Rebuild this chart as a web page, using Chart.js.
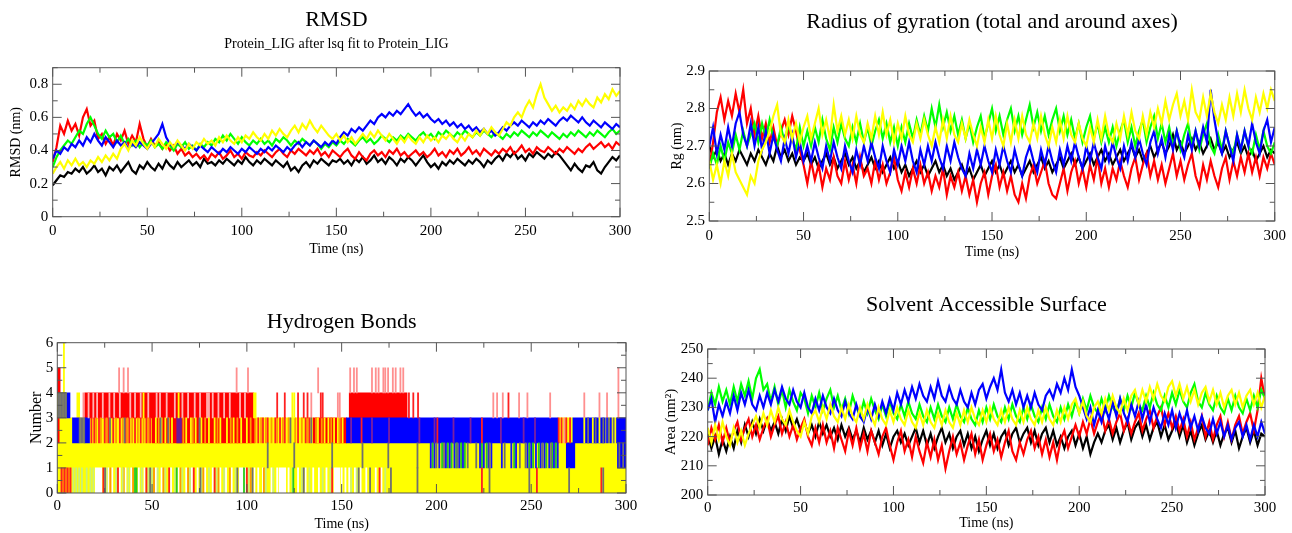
<!DOCTYPE html>
<html>
<head>
<meta charset="utf-8">
<script src="https://cdn.jsdelivr.net/npm/chart.js@4.4.1/dist/chart.umd.min.js"></script>
<style>
  html, body { margin: 0; padding: 0; background: #fff; }
  #wrap { position: relative; width: 1292px; height: 533px; overflow: hidden; }
  .panel { position: absolute; }
</style>
</head>
<body>
<div id="wrap">
  <div class="panel" style="left:0;top:0;width:646px;height:266px"><canvas id="c-rmsd"></canvas></div>
  <div class="panel" style="left:646px;top:0;width:646px;height:266px"><canvas id="c-rg"></canvas></div>
  <div class="panel" style="left:0;top:266px;width:646px;height:267px"><canvas id="c-hb"></canvas></div>
  <div class="panel" style="left:646px;top:266px;width:646px;height:267px"><canvas id="c-sasa"></canvas></div>
</div>
<script>
/* Four GROMACS/xmgrace style panels: RMSD, Rg, H-bonds, SASA.
 * Five systems per panel, drawn black, red, green, blue, yellow (yellow on top). */
(function () {
  'use strict';

  // ---- axes -------------------------------------------------------------
  var T_STEP = 2;                       // ns between samples
  var X_TICKS = [0, 50, 100, 150, 200, 250, 300];
  var RMSD_TICKS = [0, 0.2, 0.4, 0.6, 0.8];
  var RG_TICKS = [2.5, 2.6, 2.7, 2.8, 2.9];
  var HB_TICKS = [0, 1, 2, 3, 4, 5, 6];
  var SASA_TICKS = [200, 210, 220, 230, 240, 250];

  // ---- RMSD (nm), one value every 2 ns, 0..300 ns -----------------------
  var RMSD_BLACK = [
    0.19,0.22,0.25,0.24,0.27,0.26,
    0.29,0.27,0.30,0.26,0.28,0.31,0.27,0.29,0.25,0.30,
    0.28,0.31,0.27,0.30,0.33,0.28,0.26,0.31,0.29,0.33,
    0.30,0.28,0.32,0.29,0.34,0.31,0.29,0.33,0.30,0.32,
    0.34,0.31,0.33,0.30,0.35,0.32,0.33,0.31,0.34,0.32,
    0.35,0.33,0.31,0.34,0.32,0.36,0.33,0.31,0.34,0.32,
    0.35,0.33,0.31,0.34,0.32,0.30,0.33,0.28,0.30,0.27,
    0.31,0.33,0.30,0.34,0.32,0.35,0.33,0.31,0.34,0.33,
    0.35,0.32,0.34,0.31,0.35,0.33,0.36,0.32,0.34,0.37,
    0.33,0.35,0.32,0.36,0.34,0.31,0.35,0.33,0.36,0.34,
    0.31,0.34,0.37,0.33,0.30,0.32,0.29,0.33,0.31,0.34,
    0.32,0.35,0.33,0.31,0.34,0.32,0.35,0.33,0.30,0.34,
    0.32,0.35,0.37,0.34,0.38,0.36,0.39,0.35,0.37,0.34,
    0.38,0.36,0.39,0.37,0.35,0.38,0.36,0.39,0.37,0.34,
    0.31,0.28,0.32,0.29,0.27,0.31,0.30,0.33,0.28,0.26,
    0.30,0.33,0.36,0.34,0.37
  ];
  var RMSD_RED = [
    0.33,0.42,0.55,0.50,0.58,0.52,
    0.56,0.49,0.60,0.65,0.55,0.58,0.47,0.50,0.44,0.48,
    0.43,0.50,0.46,0.52,0.44,0.49,0.45,0.56,0.47,0.42,
    0.47,0.43,0.45,0.41,0.44,0.40,0.43,0.38,0.41,0.37,
    0.39,0.36,0.38,0.35,0.37,0.34,0.38,0.36,0.39,0.35,
    0.37,0.40,0.36,0.38,0.35,0.39,0.37,0.36,0.39,0.37,
    0.40,0.38,0.36,0.39,0.41,0.38,0.36,0.40,0.38,0.41,
    0.39,0.37,0.40,0.38,0.41,0.37,0.39,0.36,0.40,0.38,
    0.36,0.39,0.41,0.37,0.35,0.39,0.36,0.34,0.38,0.40,
    0.37,0.39,0.36,0.40,0.38,0.41,0.37,0.39,0.36,0.38,
    0.40,0.37,0.39,0.36,0.38,0.41,0.37,0.39,0.36,0.40,
    0.38,0.41,0.37,0.39,0.42,0.38,0.40,0.37,0.41,0.39,
    0.37,0.40,0.38,0.41,0.39,0.42,0.38,0.40,0.43,0.39,
    0.41,0.38,0.42,0.40,0.39,0.42,0.40,0.38,0.41,0.39,
    0.42,0.40,0.38,0.41,0.39,0.42,0.44,0.41,0.43,0.45,
    0.42,0.44,0.41,0.45,0.43
  ];
  var RMSD_GREEN = [
    0.30,0.36,0.40,0.43,0.46,0.44,
    0.48,0.52,0.50,0.56,0.60,0.55,0.50,0.47,0.52,0.48,
    0.50,0.45,0.49,0.44,0.47,0.43,0.46,0.42,0.45,0.43,
    0.46,0.42,0.44,0.41,0.45,0.43,0.40,0.44,0.42,0.45,
    0.41,0.43,0.40,0.44,0.42,0.45,0.43,0.47,0.45,0.49,
    0.46,0.50,0.47,0.44,0.48,0.45,0.43,0.46,0.44,0.47,
    0.44,0.46,0.43,0.47,0.45,0.48,0.46,0.43,0.46,0.44,
    0.47,0.45,0.43,0.46,0.44,0.41,0.44,0.42,0.45,0.43,
    0.46,0.44,0.47,0.45,0.43,0.46,0.48,0.45,0.47,0.44,
    0.46,0.49,0.47,0.45,0.48,0.46,0.49,0.47,0.50,0.48,
    0.46,0.49,0.51,0.48,0.50,0.47,0.51,0.49,0.52,0.50,
    0.48,0.51,0.49,0.52,0.50,0.48,0.51,0.49,0.52,0.50,
    0.48,0.51,0.49,0.47,0.50,0.48,0.51,0.49,0.52,0.50,
    0.48,0.51,0.49,0.52,0.50,0.48,0.51,0.49,0.47,0.50,
    0.48,0.51,0.49,0.52,0.50,0.48,0.51,0.49,0.52,0.50,
    0.48,0.51,0.53,0.50,0.52
  ];
  var RMSD_BLUE = [
    0.35,0.40,0.38,0.42,0.40,0.44,
    0.42,0.46,0.43,0.48,0.45,0.50,0.46,0.43,0.48,0.45,
    0.42,0.46,0.43,0.45,0.41,0.44,0.42,0.45,0.43,0.41,
    0.44,0.47,0.50,0.56,0.48,0.44,0.42,0.45,0.43,0.41,
    0.44,0.42,0.40,0.43,0.41,0.39,0.42,0.40,0.38,0.41,
    0.39,0.42,0.40,0.38,0.41,0.39,0.42,0.40,0.38,0.41,
    0.39,0.42,0.40,0.43,0.41,0.39,0.42,0.40,0.43,0.45,
    0.42,0.45,0.43,0.46,0.44,0.42,0.45,0.43,0.46,0.44,
    0.48,0.51,0.49,0.53,0.51,0.54,0.52,0.55,0.58,0.56,
    0.60,0.62,0.60,0.63,0.61,0.64,0.62,0.65,0.68,0.64,
    0.61,0.63,0.60,0.62,0.59,0.57,0.59,0.56,0.58,0.55,
    0.57,0.54,0.56,0.53,0.55,0.52,0.54,0.51,0.53,0.50,
    0.52,0.49,0.51,0.54,0.52,0.55,0.57,0.55,0.58,0.56,
    0.54,0.57,0.55,0.58,0.56,0.59,0.57,0.55,0.58,0.60,
    0.58,0.61,0.59,0.57,0.60,0.57,0.55,0.58,0.56,0.54,
    0.57,0.55,0.53,0.56,0.54
  ];
  var RMSD_YELLOW = [
    0.26,0.30,0.33,0.29,0.34,0.31,
    0.35,0.31,0.33,0.30,0.34,0.32,0.36,0.33,0.37,0.34,
    0.38,0.35,0.41,0.44,0.40,0.46,0.43,0.48,0.44,0.41,
    0.45,0.42,0.47,0.44,0.41,0.45,0.42,0.46,0.43,0.40,
    0.44,0.41,0.45,0.43,0.47,0.44,0.46,0.43,0.48,0.45,
    0.49,0.46,0.44,0.48,0.45,0.49,0.47,0.51,0.48,0.46,
    0.50,0.47,0.52,0.49,0.53,0.50,0.48,0.52,0.55,0.51,
    0.56,0.53,0.58,0.54,0.51,0.55,0.52,0.49,0.47,0.50,
    0.46,0.49,0.45,0.48,0.44,0.47,0.50,0.47,0.51,0.48,
    0.52,0.49,0.46,0.50,0.47,0.44,0.48,0.45,0.49,0.46,
    0.44,0.48,0.45,0.49,0.46,0.48,0.45,0.49,0.47,0.50,
    0.47,0.45,0.49,0.46,0.50,0.48,0.52,0.49,0.53,0.50,
    0.54,0.51,0.49,0.53,0.57,0.55,0.60,0.63,0.60,0.66,
    0.70,0.66,0.74,0.80,0.72,0.68,0.64,0.67,0.63,0.66,
    0.64,0.68,0.65,0.70,0.67,0.71,0.68,0.66,0.72,0.69,
    0.74,0.71,0.77,0.73,0.76
  ];

  // ---- Radius of gyration (nm) ------------------------------------------
  var RG_BLACK = [
    2.70,2.67,2.69,2.66,2.68,2.65,
    2.68,2.66,2.69,2.67,2.65,2.68,2.66,2.69,2.67,2.65,
    2.68,2.66,2.70,2.67,2.69,2.66,2.68,2.65,2.67,2.66,
    2.68,2.65,2.67,2.64,2.66,2.68,2.65,2.67,2.64,2.66,
    2.68,2.65,2.67,2.64,2.66,2.63,2.65,2.67,2.64,2.66,
    2.63,2.65,2.67,2.64,2.66,2.63,2.65,2.62,2.64,2.66,
    2.63,2.65,2.62,2.64,2.66,2.63,2.65,2.62,2.64,2.61,
    2.63,2.65,2.62,2.64,2.61,2.63,2.65,2.62,2.64,2.66,
    2.63,2.65,2.62,2.64,2.66,2.63,2.65,2.62,2.64,2.66,
    2.63,2.65,2.67,2.64,2.66,2.63,2.65,2.67,2.64,2.66,
    2.68,2.65,2.67,2.64,2.66,2.68,2.65,2.67,2.69,2.66,
    2.68,2.65,2.67,2.69,2.66,2.68,2.70,2.67,2.69,2.66,
    2.68,2.70,2.67,2.69,2.71,2.68,2.70,2.73,2.69,2.71,
    2.68,2.70,2.72,2.69,2.71,2.68,2.70,2.72,2.69,2.71,
    2.68,2.70,2.67,2.69,2.71,2.68,2.70,2.67,2.69,2.66,
    2.68,2.70,2.67,2.69,2.68
  ];
  var RG_RED = [
    2.64,2.71,2.79,2.83,2.77,2.82,
    2.78,2.84,2.79,2.85,2.76,2.80,2.73,2.78,2.72,2.76,
    2.71,2.75,2.70,2.74,2.77,2.73,2.78,2.74,2.69,2.65,
    2.60,2.66,2.61,2.65,2.59,2.64,2.61,2.67,2.62,2.60,
    2.66,2.61,2.65,2.60,2.67,2.62,2.64,2.60,2.66,2.61,
    2.65,2.60,2.63,2.67,2.61,2.58,2.63,2.59,2.64,2.60,
    2.65,2.60,2.63,2.58,2.62,2.59,2.64,2.57,2.62,2.59,
    2.63,2.58,2.62,2.57,2.61,2.55,2.60,2.63,2.57,2.62,
    2.65,2.59,2.63,2.58,2.62,2.57,2.55,2.60,2.56,2.62,
    2.65,2.60,2.63,2.66,2.60,2.57,2.56,2.60,2.64,2.58,
    2.63,2.66,2.60,2.64,2.59,2.65,2.61,2.67,2.60,2.64,
    2.59,2.64,2.61,2.66,2.62,2.59,2.64,2.67,2.61,2.65,
    2.68,2.62,2.66,2.61,2.65,2.60,2.64,2.68,2.62,2.66,
    2.61,2.65,2.68,2.62,2.59,2.65,2.61,2.66,2.62,2.59,
    2.64,2.67,2.61,2.66,2.62,2.67,2.63,2.68,2.63,2.67,
    2.62,2.67,2.64,2.68,2.65
  ];
  var RG_GREEN = [
    2.64,2.68,2.65,2.70,2.66,2.71,
    2.68,2.73,2.69,2.74,2.70,2.73,2.76,2.71,2.76,2.72,
    2.77,2.72,2.70,2.75,2.71,2.76,2.72,2.69,2.75,2.70,
    2.74,2.70,2.75,2.71,2.77,2.72,2.69,2.75,2.71,2.76,
    2.72,2.70,2.75,2.71,2.76,2.71,2.75,2.70,2.74,2.77,
    2.72,2.76,2.71,2.75,2.70,2.75,2.71,2.76,2.72,2.77,
    2.73,2.78,2.74,2.80,2.75,2.81,2.75,2.79,2.74,2.78,
    2.73,2.77,2.72,2.76,2.71,2.75,2.78,2.72,2.76,2.80,
    2.74,2.78,2.73,2.77,2.80,2.74,2.78,2.73,2.77,2.81,
    2.75,2.79,2.74,2.78,2.73,2.77,2.80,2.74,2.78,2.73,
    2.77,2.72,2.76,2.71,2.75,2.78,2.72,2.76,2.71,2.75,
    2.71,2.75,2.70,2.74,2.77,2.71,2.75,2.70,2.74,2.77,
    2.71,2.75,2.78,2.72,2.76,2.71,2.75,2.70,2.74,2.69,
    2.73,2.76,2.70,2.74,2.69,2.73,2.76,2.70,2.68,2.73,
    2.69,2.74,2.70,2.68,2.73,2.69,2.74,2.70,2.68,2.73,
    2.69,2.74,2.70,2.68,2.71
  ];
  var RG_BLUE = [
    2.70,2.75,2.68,2.73,2.69,2.75,
    2.70,2.76,2.79,2.73,2.70,2.76,2.70,2.75,2.69,2.74,
    2.68,2.73,2.69,2.66,2.72,2.68,2.73,2.67,2.71,2.66,
    2.70,2.66,2.71,2.67,2.64,2.70,2.66,2.71,2.67,2.64,
    2.70,2.66,2.63,2.69,2.65,2.70,2.66,2.71,2.67,2.64,
    2.70,2.66,2.63,2.69,2.65,2.70,2.66,2.71,2.66,2.63,
    2.69,2.65,2.70,2.66,2.71,2.67,2.64,2.70,2.66,2.71,
    2.67,2.64,2.62,2.68,2.64,2.69,2.65,2.70,2.66,2.63,
    2.69,2.65,2.70,2.66,2.63,2.69,2.65,2.62,2.67,2.70,
    2.66,2.63,2.69,2.65,2.70,2.66,2.63,2.69,2.65,2.70,
    2.66,2.71,2.67,2.64,2.70,2.66,2.71,2.67,2.64,2.70,
    2.66,2.71,2.67,2.64,2.70,2.66,2.71,2.67,2.72,2.68,
    2.65,2.71,2.74,2.68,2.72,2.67,2.73,2.69,2.74,2.70,
    2.67,2.73,2.69,2.74,2.70,2.75,2.71,2.85,2.77,2.71,
    2.68,2.74,2.70,2.66,2.73,2.69,2.74,2.70,2.76,2.71,
    2.68,2.74,2.77,2.71,2.75
  ];
  var RG_YELLOW = [
    2.66,2.61,2.65,2.60,2.66,2.62,
    2.68,2.63,2.61,2.59,2.57,2.62,2.60,2.66,2.69,2.71,
    2.74,2.78,2.81,2.73,2.71,2.77,2.72,2.76,2.71,2.75,
    2.78,2.72,2.76,2.80,2.73,2.77,2.72,2.81,2.74,2.78,
    2.73,2.77,2.72,2.78,2.73,2.71,2.76,2.72,2.78,2.73,
    2.79,2.73,2.77,2.71,2.76,2.72,2.78,2.73,2.71,2.76,
    2.72,2.77,2.73,2.70,2.75,2.71,2.77,2.72,2.78,2.73,
    2.71,2.76,2.72,2.77,2.73,2.70,2.75,2.71,2.77,2.72,
    2.78,2.73,2.70,2.76,2.71,2.77,2.72,2.78,2.73,2.71,
    2.76,2.72,2.78,2.73,2.70,2.75,2.71,2.77,2.72,2.78,
    2.73,2.71,2.76,2.72,2.70,2.75,2.71,2.77,2.72,2.78,
    2.73,2.71,2.76,2.72,2.78,2.73,2.79,2.74,2.72,2.78,
    2.73,2.79,2.75,2.80,2.76,2.82,2.77,2.81,2.84,2.78,
    2.82,2.77,2.85,2.79,2.77,2.83,2.78,2.84,2.79,2.76,
    2.81,2.77,2.83,2.78,2.84,2.79,2.85,2.80,2.77,2.83,
    2.79,2.84,2.80,2.85,2.82
  ];

  // ---- Solvent accessible surface (nm^2) --------------------------------
  var SASA_BLACK = [
    221,216,220,214,219,215,
    220,216,222,218,224,220,225,221,226,222,
    226,222,225,221,226,222,227,223,226,222,
    225,221,224,220,225,221,224,220,223,219,
    224,220,223,219,222,218,223,219,222,218,
    222,217,221,216,220,222,218,221,217,220,
    223,218,222,217,221,216,220,223,218,221,
    216,220,222,217,221,216,220,215,219,222,
    217,221,216,220,222,217,221,223,218,221,
    223,218,222,217,221,223,218,222,217,220,
    216,220,222,217,221,216,220,214,218,221,
    218,222,224,219,223,218,222,225,219,223,
    225,220,224,219,223,225,220,224,219,222,
    225,220,224,218,222,217,221,224,219,222,
    218,222,217,221,223,218,222,216,220,223,
    218,222,217,221,220
  ];
  var SASA_RED = [
    217,223,219,224,218,223,
    218,222,225,219,223,226,220,224,219,223,
    226,220,224,227,221,225,220,224,219,223,
    226,220,217,223,218,224,218,222,216,223,
    219,215,222,217,223,216,221,215,222,218,
    214,220,223,217,212,218,222,215,219,213,
    220,215,211,218,213,219,212,217,209,215,
    220,214,218,212,217,221,214,219,212,217,
    221,215,219,213,218,222,215,212,218,214,
    219,222,216,220,214,219,213,218,212,219,
    222,216,220,224,220,225,221,226,221,225,
    228,222,226,221,225,228,222,226,221,225,
    228,222,226,229,223,227,230,224,228,223,
    227,222,226,220,225,219,223,227,220,225,
    219,224,227,220,225,219,224,227,221,225,
    228,222,229,240,233
  ];
  var SASA_GREEN = [
    229,235,231,237,232,236,
    231,237,232,238,234,239,233,240,243,236,
    238,232,237,231,236,230,236,232,229,235,
    233,228,234,230,235,229,233,236,230,234,
    229,233,228,234,230,227,232,228,233,229,
    226,231,227,232,228,226,231,227,232,228,
    226,231,227,225,230,226,231,227,225,230,
    226,231,227,225,230,226,224,229,225,230,
    226,231,227,225,230,226,231,227,225,230,
    226,231,227,225,230,226,231,227,225,230,
    226,231,227,232,228,233,229,234,230,228,
    233,229,234,230,228,233,229,234,230,235,
    231,229,234,230,235,231,229,234,230,235,
    231,236,232,230,235,238,232,230,235,231,
    229,234,230,228,233,229,234,230,228,233,
    229,234,230,236,233
  ];
  var SASA_BLUE = [
    229,233,225,231,227,232,
    228,234,229,235,231,236,231,229,234,230,
    235,231,236,232,237,233,231,236,232,230,
    235,230,228,233,229,234,230,228,233,229,
    227,232,228,226,231,227,225,230,226,231,
    227,232,228,233,229,235,231,236,232,237,
    233,238,234,232,237,233,239,234,232,237,
    233,231,236,232,230,235,231,236,238,233,
    237,240,236,243,235,232,236,231,235,230,
    234,230,235,231,229,234,236,233,238,235,
    240,236,243,237,234,230,226,230,224,229,
    225,230,226,232,227,233,228,225,231,227,
    232,226,231,225,230,226,223,228,224,229,
    223,228,224,229,223,227,222,227,223,221,
    226,221,225,220,224,219,223,225,220,224,
    219,224,220,225,221
  ];
  var SASA_YELLOW = [
    223,218,224,219,225,220,
    217,223,218,222,217,221,224,227,223,228,
    224,229,225,230,226,224,229,225,222,220,
    225,221,227,229,225,230,226,231,227,225,
    230,226,231,227,225,230,226,231,227,224,
    230,226,224,229,225,230,226,224,229,225,
    223,228,224,229,225,223,228,224,229,225,
    223,228,224,229,225,230,226,224,229,225,
    230,226,224,229,225,230,226,224,229,225,
    230,226,224,229,225,230,226,224,229,225,
    230,226,231,233,228,232,227,225,230,232,
    228,233,229,234,230,228,233,229,234,236,
    231,236,232,237,233,238,234,232,237,239,
    234,238,233,237,232,236,231,235,237,232,
    236,231,235,230,234,236,231,235,230,234,
    236,231,235,230,234
  ];

  // ---- Hydrogen bonds ----------------------------------------------------
  // filled blocks: [number of bonds (band floor), from ns, to ns]
  var HB_YELLOW_SPANS = [
    [0, 0, 300], [1, 0, 300],
    [2, 1, 8], [2, 11.5, 14.5], [2, 17, 50], [2, 104, 135], [2, 264, 272], [2, 289, 295],
    [3, 0, 5], [3, 10.3, 11.8]
  ];
  var HB_RED_SPANS = [
    [4, 0, 1.5], [3, 14.5, 103.5], [3, 154, 184.5],
    [2, 0, 1], [2, 50, 104], [2, 135, 152.5]
  ];
  var HB_BLUE_SPANS = [
    [3, 5, 6.7], [2, 8, 11.5], [2, 14.5, 17], [2, 152.5, 264], [2, 272, 289], [2, 295, 300],
    [1, 268.5, 273], [1, 295.5, 300]
  ];
  var HB_WHITE_SPANS = [[0, 20, 23.5], [0, 96, 98], [0, 117, 120.5], [0, 146, 149]];
  var HB_PURPLE_SPANS = [[2, 63, 65.5]];

  // single-frame spikes: [band floor, [times in ns]]
  var HB_GAP_LINES = [
    [3, [16.5, 19, 21, 24, 27.5, 30, 33, 38.5, 41, 44, 48, 52.4, 54.2, 57.7, 62, 66, 69,
         72.5, 75.3, 79, 80, 82, 85, 88, 91, 96.4, 99]]
  ];
  var HB_WHITE_LINES = [
    [0, [27, 29, 33, 36, 39, 43, 46, 52, 55, 60, 64, 68, 71, 74, 78, 82, 86, 89, 92, 99, 104,
         106, 108.5, 113, 116, 122, 127, 131, 135, 138, 142, 150, 152, 154, 157, 160, 163, 168, 171]]
  ];
  var HB_ORANGE_LINES = [
    [0, [3, 4.6, 6.2, 28, 35, 40, 51, 56, 65, 69, 77, 85, 91, 102, 109]],
    [2, [20.5, 23, 26, 31, 34.5, 37, 39.5, 42.5, 45.5, 48, 53.5, 59, 66.5, 71.5, 78, 84.5, 91.5,
         95, 102, 104.5, 107.5, 110, 113, 116, 119, 122, 125.5, 129, 132, 136.5, 139.5, 144.5, 149]]
  ];
  var HB_PALEGREEN_LINES = [
    [0, [8.5, 10, 11.5, 13, 15.5, 17.5, 19, 26, 31, 34.5, 37.5, 44.5, 48, 50, 53, 57, 62, 66, 70,
         76, 80, 84, 88, 94, 101, 110, 114, 124, 129, 133, 140, 144, 155, 158, 173]]
  ];
  var HB_GREEN_LINES = [
    [0, [41, 41.8, 63, 98.5, 124.5]],
    [1, [198, 203, 206, 208, 210.5, 213, 215, 224, 226.5, 241, 249, 251, 254, 258, 261, 263]]
  ];
  var HB_PINK_LINES = [
    [4, [32.6, 35, 37.3, 94.6, 100.6, 137.6, 154.5, 156.5, 158, 166, 168, 169.5, 172, 173, 174.5,
         177, 178.5, 181, 182.5, 296]],
    [3, [13.8, 134, 148, 149, 230, 232, 235, 243.6, 248, 260, 278, 286, 290, 296]],
    [2, [267.5]]
  ];
  var HB_RED_LINES = [
    [0, [2.2, 3.8, 5.4, 7, 24.3, 32, 47, 59, 72, 83, 100, 145, 170, 224, 253, 287]],
    [2, [18, 19.5, 22, 25, 27, 29.5, 33, 36, 38, 41, 44, 47, 49, 106, 108.5, 111, 115, 117.5, 120,
         127, 131, 133, 160.5, 200.5, 224, 264.5, 266, 268.5, 270.5]],
    [3, [116, 120, 127, 130, 132, 139, 140, 185.5, 187.8, 190.3, 238]]
  ];
  var HB_YELLOW_LINES = [
    [2, [52, 55, 57, 60.5, 68, 70.5, 73, 76, 80, 83, 86, 89.5, 93, 97, 100, 137.5, 141, 143, 146,
         148, 150.5, 278, 282.5, 286]],
    [3, [45.5, 64, 103.8, 104.6, 124, 125]],
    [4, [3.5]], [5, [3.5]]
  ];
  var HB_BLUE_LINES = [
    [1, [197, 199, 201.5, 205, 207, 209.5, 212, 214, 223, 225, 227.5, 229, 234.5, 239.5, 242, 248,
         250, 252.5, 255, 257, 259.5, 262, 264]],
    [2, [290, 292]]
  ];
  var HB_GRAY_LINES = [
    [0, [25.2, 49, 75.5, 95, 103, 130, 159, 165, 176, 190, 228, 249, 270, 288]],
    [1, [111, 125, 145, 161, 174.6, 190, 200, 204, 211, 216.5, 221, 228, 236, 244, 247, 256, 260.5,
         296.5, 298.5]],
    [2, [11.8, 12.6, 13.4, 14.2, 27.8, 35.5, 54.5, 58.5, 75, 123, 134, 280, 284, 288, 291, 293.5]],
    [3, [0.6, 1.4, 2.2, 3, 3.8, 4.6]]
  ];
  var HB_PURPLE_LINES = [
    [2, [155, 166, 175, 191, 199, 209, 218, 234, 246, 252]]
  ];

  // ---- styling -----------------------------------------------------------
  var SERIF = '"Liberation Serif", "Times New Roman", serif';
  var FRAME = '#555';
  var STRIPE_HALF = 0.3;     // half width of a one-frame stripe, ns
  var TRACE_WIDTH = 2.2;     // dense MD traces read as thick bands

  Chart.defaults.font.family = SERIF;
  Chart.defaults.color = '#000';
  Chart.defaults.animation = false;

  function xy(values) {
    return values.map(function (v, i) { return { x: i * T_STEP, y: v }; });
  }

  function lineSet(values, color, order) {
    return { data: xy(values), borderColor: color, backgroundColor: color,
      borderWidth: TRACE_WIDTH, borderJoinStyle: 'miter', pointRadius: 0, tension: 0, order: order };
  }

  function spanSet(rows, color, order) {
    return {
      data: rows.map(function (r) { return { y: r[0] + 0.5, x: [r[1], r[2]] }; }),
      backgroundColor: color, order: order
    };
  }

  function stripeSet(groups, color, order) {
    var data = [];
    groups.forEach(function (g) {
      g[1].forEach(function (t) {
        data.push({ y: g[0] + 0.5, x: [t - STRIPE_HALF, t + STRIPE_HALF] });
      });
    });
    return { data: data, backgroundColor: color, order: order };
  }

  function tickList(values) {
    return function (scale) {
      scale.ticks = values.map(function (v) { return { value: v }; });
    };
  }

  // xmgrace-like frame with inward major/minor ticks on all four sides
  var xmFrame = {
    id: 'xmFrame',
    afterDatasetsDraw: function (chart, args, opts) {
      var a = chart.chartArea, ctx = chart.ctx;
      var xs = chart.scales.x, ys = chart.scales.y;
      function marks(scale) {
        var out = [];
        var vals = scale.ticks.map(function (t) { return t.value; });
        vals.forEach(function (v, i) {
          out.push({ v: v, major: true });
          if (i < vals.length - 1) out.push({ v: (v + vals[i + 1]) / 2, major: false });
        });
        if (scale.max > vals[vals.length - 1]) out.push({ v: scale.max, major: false });
        return out;
      }
      ctx.save();
      ctx.strokeStyle = FRAME;
      ctx.lineWidth = 1;
      ctx.strokeRect(a.left, a.top, a.right - a.left, a.bottom - a.top);
      ctx.beginPath();
      marks(xs).forEach(function (m) {
        var p = xs.getPixelForValue(m.v), len = m.major ? opts.major : opts.minor;
        ctx.moveTo(p, a.bottom); ctx.lineTo(p, a.bottom - len);
        ctx.moveTo(p, a.top); ctx.lineTo(p, a.top + len);
      });
      marks(ys).forEach(function (m) {
        var p = ys.getPixelForValue(m.v), len = m.major ? opts.major : opts.minor;
        ctx.moveTo(a.left, p); ctx.lineTo(a.left + len, p);
        ctx.moveTo(a.right, p); ctx.lineTo(a.right - len, p);
      });
      ctx.stroke();
      ctx.restore();
    }
  };

  function xAxis(c) {
    return {
      type: 'linear', min: 0, max: 300,
      grid: { display: false, drawTicks: false }, border: { display: false },
      afterBuildTicks: tickList(X_TICKS),
      ticks: { font: { size: 15 }, padding: c.tickPad, maxRotation: 0, autoSkip: false },
      title: { display: true, text: 'Time (ns)', font: { size: 14 },
        padding: { top: 0, bottom: c.titlePad } },
      afterFit: function (s) { s.height = c.height; }
    };
  }

  function yAxis(c) {
    return {
      type: 'linear', min: c.min, max: c.max, offset: false,
      grid: { display: false, drawTicks: false, offset: false }, border: { display: false },
      afterBuildTicks: tickList(c.ticks),
      ticks: { font: { size: 15 }, padding: c.tickPad, callback: c.fmt },
      title: { display: true, text: c.title, font: { size: c.titleSize },
        padding: { top: c.titlePad, bottom: 0 } },
      afterFit: function (s) { s.width = c.width; }
    };
  }

  function titleOpt(text, top, bottom) {
    return { display: true, text: text, fullSize: false,
      font: { size: 22, weight: 'normal' }, padding: { top: top, bottom: bottom } };
  }

  function baseOptions(c) {
    return {
      responsive: true, maintainAspectRatio: false, animation: false,
      layout: { padding: { left: 0, top: 0, bottom: 0, right: c.right } },
      plugins: {
        legend: { display: false }, tooltip: { enabled: false },
        title: c.title, subtitle: c.subtitle || { display: false },
        xmFrame: { major: 9, minor: 5 }
      },
      scales: { x: c.x, y: c.y }
    };
  }

  // ---- RMSD ----------------------------------------------------------------
  new Chart(document.getElementById('c-rmsd'), {
    type: 'line',
    data: { datasets: [
      lineSet(RMSD_BLACK, '#000000', 5), lineSet(RMSD_RED, '#ff0000', 4),
      lineSet(RMSD_GREEN, '#00ff00', 3), lineSet(RMSD_BLUE, '#0000ff', 2),
      lineSet(RMSD_YELLOW, '#ffff00', 1)
    ] },
    options: baseOptions({
      right: 26,
      title: titleOpt('RMSD', 7, 3),
      subtitle: { display: true, text: 'Protein_LIG after lsq fit to Protein_LIG', fullSize: false,
        font: { size: 14, weight: 'normal' }, padding: { top: 0, bottom: 14.5 } },
      x: xAxis({ height: 49.3, tickPad: 5.3, titlePad: 8.6 }),
      y: yAxis({ min: 0, max: 0.9, ticks: RMSD_TICKS, width: 52.7, tickPad: 4.4,
        title: 'RMSD (nm)', titleSize: 14, titlePad: 8.3,
        fmt: function (v) { return v === 0 ? '0' : v.toFixed(1); } })
    }),
    plugins: [xmFrame]
  });

  // ---- Radius of gyration -------------------------------------------------
  new Chart(document.getElementById('c-rg'), {
    type: 'line',
    data: { datasets: [
      lineSet(RG_BLACK, '#000000', 5), lineSet(RG_RED, '#ff0000', 4),
      lineSet(RG_GREEN, '#00ff00', 3), lineSet(RG_BLUE, '#0000ff', 2),
      lineSet(RG_YELLOW, '#ffff00', 1)
    ] },
    options: baseOptions({
      right: 13,
      title: titleOpt('Radius of gyration (total and around axes)', 8.8, 35.8),
      x: xAxis({ height: 45, tickPad: 6, titlePad: 5.1 }),
      y: yAxis({ min: 2.5, max: 2.9, ticks: RG_TICKS, width: 63.3, tickPad: 4.3,
        title: 'Rg (nm)', titleSize: 14, titlePad: 23.1,
        fmt: function (v) { return v.toFixed(1); } })
    }),
    plugins: [xmFrame]
  });

  // ---- Hydrogen bonds (horizontal floating bars on a linear band axis) ----
  var barBase = { grouped: false, barPercentage: 1, categoryPercentage: 1, borderWidth: 0 };
  var hbSets = [
    spanSet(HB_YELLOW_SPANS, '#ffff00', 20),
    spanSet(HB_RED_SPANS, '#ff0000', 19),
    spanSet(HB_BLUE_SPANS, '#0000ff', 18),
    spanSet(HB_PURPLE_SPANS, '#6a1b9a', 17),
    spanSet(HB_WHITE_SPANS, '#ffffff', 16),
    stripeSet(HB_GAP_LINES, '#ffb3b3', 15),
    stripeSet(HB_WHITE_LINES, '#ffffff', 14),
    stripeSet(HB_ORANGE_LINES, '#ff9900', 13),
    stripeSet(HB_PALEGREEN_LINES, '#c8f07a', 12),
    stripeSet(HB_GREEN_LINES, '#22cc22', 11),
    stripeSet(HB_PINK_LINES, '#ff8f8f', 10),
    stripeSet(HB_RED_LINES, '#ff2020', 9),
    stripeSet(HB_YELLOW_LINES, '#ffff00', 8),
    stripeSet(HB_BLUE_LINES, '#1010ff', 7),
    stripeSet(HB_GRAY_LINES, '#707070', 6),
    stripeSet(HB_PURPLE_LINES, '#7a1fa2', 5)
  ].map(function (d) { return Object.assign(d, barBase); });

  new Chart(document.getElementById('c-hb'), {
    type: 'bar',
    data: { datasets: hbSets },
    options: Object.assign(baseOptions({
      right: 20,
      title: titleOpt('Hydrogen Bonds', 42.8, 7.5),
      x: xAxis({ height: 40, tickPad: 4, titlePad: 0.6 }),
      y: yAxis({ min: 0, max: 6, ticks: HB_TICKS, width: 57.3, tickPad: 4,
        title: 'Number', titleSize: 16, titlePad: 27.1,
        fmt: function (v) { return String(v); } })
    }), { indexAxis: 'y' }),
    plugins: [xmFrame]
  });

  // ---- Solvent accessible surface ----------------------------------------
  new Chart(document.getElementById('c-sasa'), {
    type: 'line',
    data: { datasets: [
      lineSet(SASA_BLACK, '#000000', 5), lineSet(SASA_RED, '#ff0000', 4),
      lineSet(SASA_GREEN, '#00ff00', 3), lineSet(SASA_BLUE, '#0000ff', 2),
      lineSet(SASA_YELLOW, '#ffff00', 1)
    ] },
    options: baseOptions({
      right: 27,
      title: titleOpt('Solvent Accessible Surface', 25.8, 30.8),
      x: xAxis({ height: 38, tickPad: 4.5, titlePad: 1 }),
      y: yAxis({ min: 200, max: 250, ticks: SASA_TICKS, width: 61.7, tickPad: 4.4,
        title: 'Area (nm\u00b2)', titleSize: 15, titlePad: 15.8,
        fmt: function (v) { return String(v); } })
    }),
    plugins: [xmFrame]
  });
})();
</script>
</body>
</html>
